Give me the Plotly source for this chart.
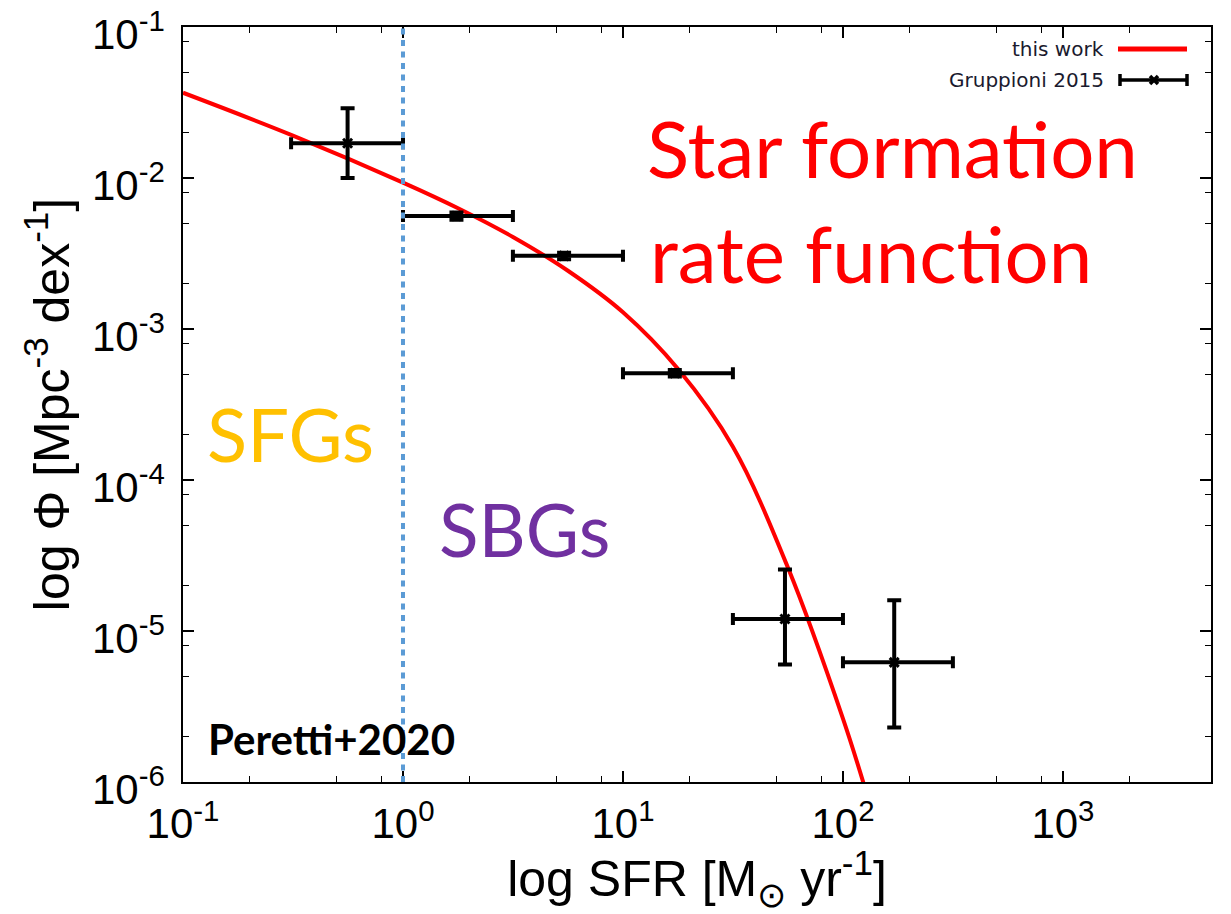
import plotly.graph_objects as go

# Model star formation rate function ("this work")
model_sfr = [0.1, 0.316, 1.0, 1.78, 3.16, 5.62, 10.0, 17.8, 31.6, 56.2, 100.0, 126.0]
model_phi = [3.67e-2, 1.91e-2, 9.33e-3, 6.31e-3, 4.07e-3, 2.43e-3, 1.29e-3, 5.43e-4,
             1.66e-4, 2.63e-5, 2.63e-6, 9.1e-7]

# Gruppioni 2015 binned measurements
obs_sfr = [0.56, 1.75, 5.4, 17.2, 54.5, 171.0]
obs_sfr_lo = [0.31, 1.0, 3.16, 10.0, 31.6, 100.0]
obs_sfr_hi = [1.0, 3.16, 10.0, 31.6, 100.0, 316.0]
obs_phi = [1.70e-2, 5.6e-3, 3.05e-3, 5.1e-4, 1.2e-5, 6.2e-6]
obs_phi_lo = [1.0e-2, 5.3e-3, 2.9e-3, 4.85e-4, 6.0e-6, 2.3e-6]
obs_phi_hi = [2.9e-2, 5.9e-3, 3.2e-3, 5.35e-4, 2.55e-5, 1.6e-5]

# SFG / SBG separation
sfr_split = 1.0

x_tickvals = [0.1, 1, 10, 100, 1000]
x_ticktext = ["10<sup>-1</sup>", "10<sup>0</sup>", "10<sup>1</sup>", "10<sup>2</sup>", "10<sup>3</sup>"]
y_tickvals = [1e-6, 1e-5, 1e-4, 1e-3, 1e-2, 1e-1]
y_ticktext = ["10<sup>-6</sup>", "10<sup>-5</sup>", "10<sup>-4</sup>", "10<sup>-3</sup>",
              "10<sup>-2</sup>", "10<sup>-1</sup>"]

x_minor = [m * 10.0 ** e for e in range(-1, 4) for m in (2, 5, 8)]
y_minor = [m * 10.0 ** e for e in range(-6, -1) for m in (2, 5, 8)]

fig = go.Figure()

fig.add_trace(go.Scatter(
    x=model_sfr, y=model_phi, mode="lines", name="this work",
    line=dict(color="#ff0000", width=4, shape="spline", smoothing=1.0),
    showlegend=False,
))

fig.add_trace(go.Scatter(
    x=obs_sfr, y=obs_phi, mode="markers", name="Gruppioni 2015",
    marker=dict(symbol="x-thin", size=9, color="black", line=dict(color="black", width=3)),
    error_x=dict(type="data", symmetric=False,
                 array=[h - v for h, v in zip(obs_sfr_hi, obs_sfr)],
                 arrayminus=[v - l for v, l in zip(obs_sfr, obs_sfr_lo)],
                 color="black", thickness=4, width=6),
    error_y=dict(type="data", symmetric=False,
                 array=[h - v for h, v in zip(obs_phi_hi, obs_phi)],
                 arrayminus=[v - l for v, l in zip(obs_phi, obs_phi_lo)],
                 color="black", thickness=4, width=7),
    showlegend=False,
))

# dotted divider between SFGs and SBGs
fig.add_shape(type="line", xref="x", yref="paper", x0=sfr_split, x1=sfr_split, y0=0, y1=1,
              line=dict(color="#5b9bd5", width=4, dash="6px,5.5px"))

tick_font = dict(family="Liberation Sans, Arial, sans-serif", size=42, color="black")
title_font = dict(family="Liberation Sans, Arial, sans-serif", size=50, color="black")
common_axis = dict(
    type="log", showgrid=False, zeroline=False, automargin=False,
    showline=True, linecolor="black", linewidth=1.5, mirror="ticks",
    ticks="inside", ticklen=11, tickwidth=1.5, tickcolor="black",
    tickfont=tick_font, ticklabeloverflow="allow",
    minor=dict(ticks="inside", ticklen=6, tickwidth=1.2, tickcolor="black"),
)

fig.update_xaxes(
    **common_axis, range=[-1, 3.673],
    tickvals=x_tickvals, ticktext=x_ticktext,
    title=dict(text="log SFR [M<sub>\u2299</sub> yr<sup>-1</sup>]", font=title_font, standoff=8),
    ticklabelstandoff=4,
)
fig.update_xaxes(minor_tickvals=x_minor)
fig.update_yaxes(
    **common_axis, range=[-6, -1],
    tickvals=y_tickvals, ticktext=y_ticktext,
    title=dict(text="log \u03a6 [Mpc<sup>-3</sup> dex<sup>-1</sup>]", font=title_font, standoff=6),
    ticklabelstandoff=8, ticklabelshift=7,
)
fig.update_yaxes(minor_tickvals=y_minor)

W, H = 1231, 914
L, R, T, B = 183, 20, 27, 132
pw, ph = W - L - R, H - T - B


def px(x):
    return (x - L) / pw


def py(y):
    return (H - B - y) / ph


label_font = "Lato, Carlito, 'Open Sans', sans-serif"
annotations = [
    dict(text="Star formation", x=px(645), y=py(148), color="#ff0000", size=78),
    dict(text="rate function", x=px(648), y=py(253), color="#ff0000", size=78),
    dict(text="SFGs", x=px(205), y=py(434), color="#ffc000", size=74),
    dict(text="SBGs", x=px(437), y=py(529), color="#7030a0", size=73),
    dict(text="<b>Peretti+2020</b>", x=px(206), y=py(739), color="black", size=42),
]
for a in annotations:
    fig.add_annotation(
        text=a["text"], x=a["x"], y=a["y"], xref="paper", yref="paper",
        xanchor="left", yanchor="middle", showarrow=False,
        font=dict(family=label_font, size=a["size"], color=a["color"]),
    )

# key in the upper-right corner
key_font = dict(family="DejaVu Sans, Verdana, sans-serif", size=20, color="#1a1a2e")
fig.add_annotation(text="this work", x=px(1106), y=py(49), xref="paper", yref="paper",
                   xanchor="right", yanchor="middle", showarrow=False, font=key_font)
fig.add_annotation(text="Gruppioni 2015", x=px(1106), y=py(80), xref="paper", yref="paper",
                   xanchor="right", yanchor="middle", showarrow=False, font=key_font)
fig.add_shape(type="line", xref="paper", yref="paper", x0=px(1118), x1=px(1187), y0=py(49), y1=py(49),
              line=dict(color="#ff0000", width=5))
key_lines = [
    (1120, 80, 1187, 80),
    (1120, 74, 1120, 86),
    (1187, 74, 1187, 86),
    (1150, 76, 1158, 84),
    (1150, 84, 1158, 76),
]
for x0, y0, x1, y1 in key_lines:
    fig.add_shape(type="line", xref="paper", yref="paper",
                  x0=px(x0), x1=px(x1), y0=py(y0), y1=py(y1),
                  line=dict(color="black", width=3.5))

fig.update_layout(
    width=W, height=H,
    margin=dict(l=L, r=R, t=T, b=B),
    paper_bgcolor="white", plot_bgcolor="white",
    showlegend=False,
)

fig.write_html("out.html")
